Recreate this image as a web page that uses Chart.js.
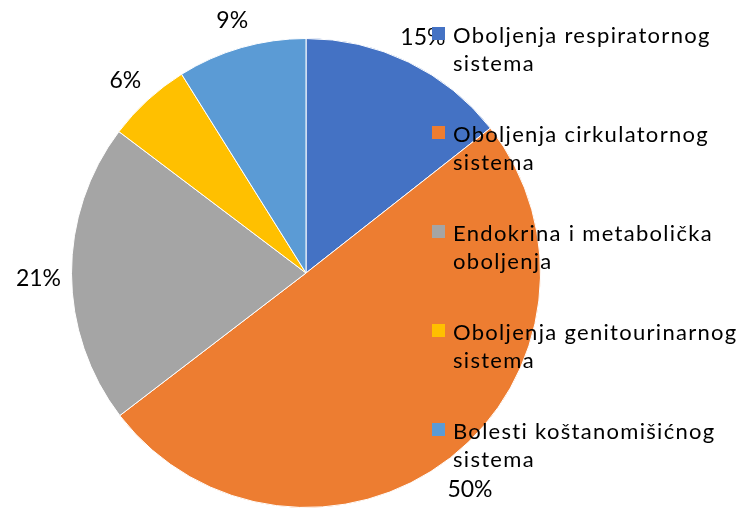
<!DOCTYPE html>
<html>
<head>
<meta charset="utf-8">
<script src="https://cdn.jsdelivr.net/npm/chart.js@4/dist/chart.umd.min.js"></script>
<style>
  html, body { margin: 0; padding: 0; background: #fff; }
  #wrap { width: 743px; height: 509px; }
</style>
</head>
<body>
<div id="wrap"><canvas id="pieChart" width="743" height="509"></canvas></div>
<script>
// categories (each split in two lines as in the legend)
const categories = [
  ["Oboljenja respiratornog", "sistema"],
  ["Oboljenja cirkulatornog", "sistema"],
  ["Endokrina i metabolička", "oboljenja"],
  ["Oboljenja genitourinarnog", "sistema"],
  ["Bolesti koštanomišićnog", "sistema"],
];
// share of each category
const shares = [14.4, 50.2, 20.7, 5.8, 8.9];
// label printed next to each slice
const shareLabels = ["15%", "50%", "21%", "6%", "9%"];
const colors = ["#4472C4", "#ED7D31", "#A5A5A5", "#FFC000", "#5B9BD5"];

/// === custom labels + legend === ///
const labelsPlugin = {
  id: "pieLabels",
  afterDraw(chart) {
    const ctx = chart.ctx;
    const arcs = chart.getDatasetMeta(0).data;
    ctx.save();
    ctx.fillStyle = "#000";
    ctx.font = "23px Lato, 'Liberation Sans', sans-serif";
    ctx.textAlign = "center";
    ctx.textBaseline = "middle";
    arcs.forEach((arc, i) => {
      const mid = (arc.startAngle + arc.endAngle) / 2;
      const r = arc.outerRadius + 33;
      ctx.fillText(shareLabels[i], arc.x + Math.cos(mid) * r, arc.y + Math.sin(mid) * r + 5);
    });

    // legend
    ctx.textAlign = "left";
    ctx.font = "22px Lato, 'Liberation Sans', sans-serif";
    if ("letterSpacing" in ctx) ctx.letterSpacing = "1.3px";
    categories.forEach((lines, i) => {
      const y = 34 + i * 99;
      ctx.fillStyle = colors[i];
      ctx.fillRect(432, y - 7, 13, 13);
      ctx.fillStyle = "#000";
      lines.forEach((t, j) => ctx.fillText(t, 453, y + 2 + j * 28));
    });
    ctx.restore();
  },
};

new Chart(document.getElementById("pieChart"), {
  type: "pie",
  data: {
    labels: categories,
    datasets: [
      {
        data: shares,
        backgroundColor: colors,
        borderColor: "#fff",
        borderWidth: 1,
      },
    ],
  },
  options: {
    responsive: false,
    animation: false,
    layout: { padding: { left: 71, right: 202, top: 38, bottom: 1 } },
    plugins: {
      legend: { display: false },
      tooltip: { enabled: false },
    },
  },
  plugins: [labelsPlugin],
});
</script>
</body>
</html>
